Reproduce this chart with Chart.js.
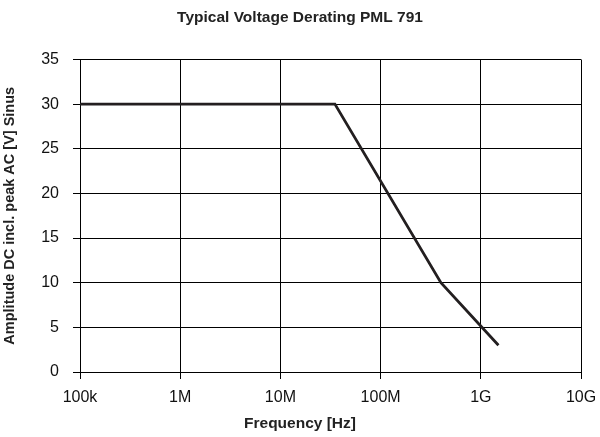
<!DOCTYPE html>
<html>
<head>
<meta charset="utf-8">
<script src="https://cdn.jsdelivr.net/npm/chart.js@4/dist/chart.umd.min.js"></script>
<style>
  html, body { margin: 0; padding: 0; background: #fff; }
  #wrap { width: 600px; height: 437px; }
</style>
</head>
<body>
<div id="wrap"><canvas id="chart" width="600" height="437"></canvas></div>
<script>
// Derating curve
const freqHz = [1e5, 3.5e7, 4e8, 1.5e9];
const amplitudeV = [30, 30, 10, 3];

const xTickValues = [1e5, 1e6, 1e7, 1e8, 1e9, 1e10];
const xTickLabels = ['100k', '1M', '10M', '100M', '1G', '10G'];

const FONT = 'Arial, "Liberation Sans", sans-serif';

const ctx = document.getElementById('chart').getContext('2d');
new Chart(ctx, {
  type: 'scatter',
  data: {
    datasets: [{
      label: 'Derating',
      data: freqHz.map((f, i) => ({ x: f, y: amplitudeV[i] })),
      showLine: true,
      borderColor: '#231f20',
      borderWidth: 2.8,
      pointRadius: 0,
      tension: 0,
    }]
  },
  options: {
    responsive: false,
    animation: false,
    layout: { padding: 0 },
    plugins: {
      legend: { display: false },
      tooltip: { enabled: false },
      title: {
        display: true,
        text: 'Typical Voltage Derating PML 791',
        color: '#222',
        font: { family: FONT, size: 15.5, weight: 'bold' },
        padding: { top: 8.5, bottom: 32.4 }
      },
      subtitle: {
        display: true,
        position: 'bottom',
        text: 'Frequency [Hz]',
        color: '#222',
        font: { family: FONT, size: 15.5, weight: 'bold' },
        padding: { top: 0, bottom: 3.7 }
      }
    },
    scales: {
      x: {
        type: 'logarithmic',
        min: 1e5,
        max: 1e10,
        afterBuildTicks: axis => { axis.ticks = xTickValues.map(v => ({ value: v })); },
        afterFit: axis => {
          axis.height = 42.7;
          axis.paddingLeft = 0;
          axis.paddingRight = 19;
        },
        ticks: {
          color: '#111',
          font: { family: FONT, size: 16 },
          padding: 8.5,
          maxRotation: 0,
          callback: (v) => {
            const i = xTickValues.indexOf(v);
            return i >= 0 ? xTickLabels[i] : '';
          }
        },
        grid: { color: '#000', lineWidth: 1, tickLength: 7 },
        border: { color: '#000', width: 1 }
      },
      y: {
        min: 0,
        max: 35,
        afterFit: axis => { axis.width = 80; },
        ticks: {
          stepSize: 5,
          color: '#111',
          font: { family: FONT, size: 16 },
          padding: 14
        },
        grid: { color: '#000', lineWidth: 1, tickLength: 7 },
        border: { color: '#000', width: 1 },
        title: {
          display: true,
          text: 'Amplitude DC incl. peak AC [V] Sinus',
          color: '#222',
          font: { family: FONT, size: 14.5, weight: 'bold' },
          padding: { top: 1, bottom: 0 }
        }
      }
    }
  }
});
</script>
</body>
</html>
